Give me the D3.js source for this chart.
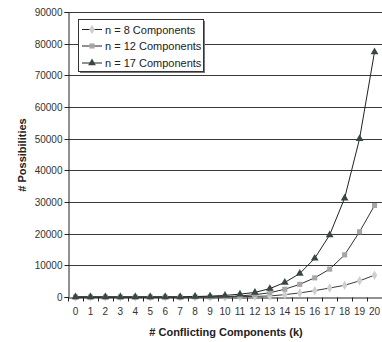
<!DOCTYPE html>
<html><head><meta charset="utf-8">
<script src="https://cdn.jsdelivr.net/npm/d3@7/dist/d3.min.js"></script>
<style>body{margin:0;background:#fff}svg{display:block;font-family:"Liberation Sans",Arial,sans-serif}</style>
</head><body>
<svg id="c" width="382" height="342"></svg>
<script>
const categories = [0,1,2,3,4,5,6,7,8,9,10,11,12,13,14,15,16,17,18,19,20];
const n8  = [0,0,0,0,0,0,0,0,0,10,30,100,200,330,750,1280,2000,2840,3700,5100,6900];
const n12 = [0,0,0,0,0,0,0,0,0,30,120,330,730,1350,2450,4000,6050,8800,13300,20600,28900];
const n17 = [0,0,0,0,0,0,0,0,150,280,500,900,1450,2650,4600,7400,12200,19600,31200,50000,77400];
const yTicks = [0,10000,20000,30000,40000,50000,60000,70000,80000,90000];
const seriesNames = ["n = 8 Components","n = 12 Components","n = 17 Components"];

const svg = d3.select("#c");
const pL = 68, pR = 382, pT = 12, pB = 297;
const x = d3.scaleBand().domain(categories).range([pL, pR]);
const y = d3.scaleLinear().domain([0, 90000]).range([pB, pT]);
const cx = k => x(k) + x.bandwidth()/2;

// gridlines
svg.append("g").selectAll("line").data(yTicks.filter(t => t > 0)).join("line")
  .attr("x1", pL).attr("x2", pR)
  .attr("y1", d => Math.round(y(d)) + 0.5).attr("y2", d => Math.round(y(d)) + 0.5)
  .attr("stroke", "#3a3a3a").attr("stroke-width", 1);

// y axis
const ya = svg.append("g").attr("transform", `translate(${pL + 0.5},0)`)
  .call(d3.axisLeft(y).tickValues(yTicks).tickSize(4).tickPadding(2).tickFormat(d3.format("d")));
ya.select(".domain").attr("stroke", "#222");
ya.selectAll(".tick line").attr("stroke", "#222");
ya.selectAll(".tick").attr("transform", d => `translate(0,${Math.round(y(d)) + 0.5})`);
ya.selectAll("text").attr("font-size", 10).attr("fill", "#333").attr("font-family", "Liberation Sans, Arial, sans-serif");

// x axis
const xa = svg.append("g").attr("transform", `translate(0,${pB + 0.5})`)
  .call(d3.axisBottom(x).tickSize(0).tickPadding(10));
xa.select(".domain").attr("stroke", "#222");
xa.selectAll("text").attr("font-size", 10).attr("fill", "#333").attr("font-family", "Liberation Sans, Arial, sans-serif");
xa.append("g").selectAll("line").data(categories.concat([21])).join("line")
  .attr("x1", (d, i) => Math.round(pL + i * x.bandwidth()) + 0.5)
  .attr("x2", (d, i) => Math.round(pL + i * x.bandwidth()) + 0.5)
  .attr("y1", 0).attr("y2", 4).attr("stroke", "#222");

// titles
svg.append("text").attr("x", 226).attr("y", 336).attr("text-anchor", "middle")
  .attr("font-size", 11).attr("font-weight", "bold").attr("fill", "#222")
  .text("# Conflicting Components (k)");
svg.append("text").attr("transform", "translate(26,155) rotate(-90)").attr("text-anchor", "middle")
  .attr("font-size", 11).attr("font-weight", "bold").attr("fill", "#222")
  .text("# Possibilities");

// series
const series = [
  {name: seriesNames[0], values: n8,  shape: d3.symbolDiamond, size: 26, fill: "#cfcfcf", line: "#3a3a3a"},
  {name: seriesNames[1], values: n12, shape: d3.symbolSquare,  size: 26, fill: "#a6a6a6", line: "#333"},
  {name: seriesNames[2], values: n17, shape: d3.symbolTriangle, size: 26, fill: "#394646", line: "#222"}
];
const line = d3.line().x((d, i) => cx(categories[i])).y(d => y(d));
series.forEach(s => {
  svg.append("path").attr("d", line(s.values)).attr("fill", "none")
    .attr("stroke", s.line).attr("stroke-width", 1);
});
series.forEach(s => {
  svg.append("g").selectAll("path").data(s.values).join("path")
    .attr("transform", (d, i) => `translate(${cx(categories[i])},${y(d)})`)
    .attr("d", d3.symbol().type(s.shape).size(s.size)())
    .attr("fill", s.fill);
});

// legend
const lg = svg.append("g");
lg.append("rect").attr("x", 80).attr("y", 21).attr("width", 125).attr("height", 52).attr("fill", "#777");
lg.append("rect").attr("x", 78.5).attr("y", 19.5).attr("width", 125).attr("height", 52)
  .attr("fill", "#fff").attr("stroke", "#333");
const rowY = [29.5, 46, 63];
series.forEach((s, i) => {
  lg.append("line").attr("x1", 82).attr("x2", 102).attr("y1", rowY[i]).attr("y2", rowY[i])
    .attr("stroke", "#222");
  lg.append("path").attr("transform", `translate(92,${rowY[i]})`)
    .attr("d", d3.symbol().type(s.shape).size(s.size)()).attr("fill", s.fill);
  lg.append("text").attr("x", 105).attr("y", rowY[i] + 4).attr("font-size", 11).attr("fill", "#222")
    .text(s.name);
});
</script>
</body></html>
